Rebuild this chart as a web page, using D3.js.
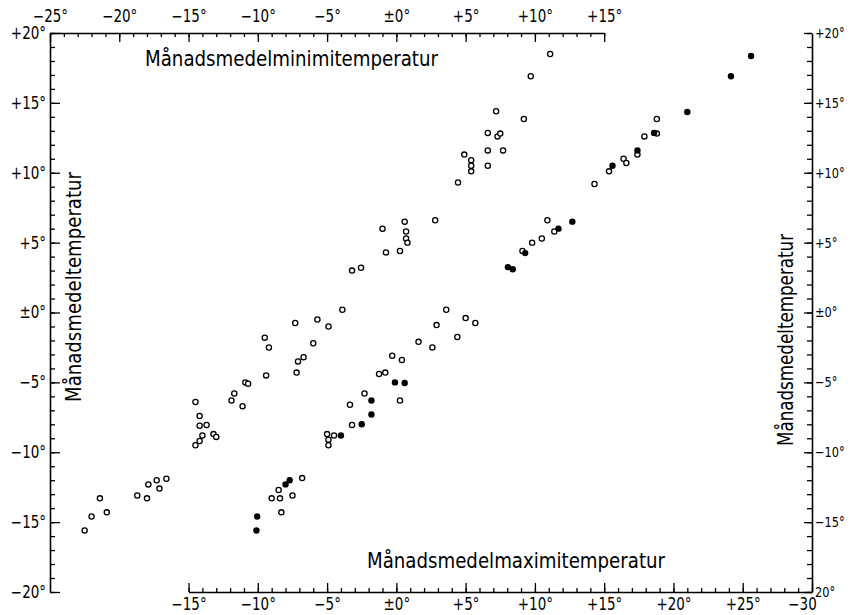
<!DOCTYPE html>
<html>
<head>
<meta charset="utf-8">
<script src="https://cdn.jsdelivr.net/npm/d3@7"></script>
<style>
  body { margin: 0; background: #fff; }
  svg { display: block; }
  text { font-family: "DejaVu Sans Condensed", "DejaVu Sans", sans-serif; font-stretch: condensed; fill: #000; }
</style>
</head>
<body>
<svg id="chart" width="852" height="615"></svg>
<script>
// mean temperature (y) against monthly mean minimum (x), open circles
const minPoints = [
  [-22.5, -15.6], [-22.0, -14.6], [-21.4, -13.3], [-20.9, -14.3], [-18.7, -13.1],
  [-18.0, -13.3], [-17.9, -12.3], [-17.3, -12.0], [-17.1, -12.6], [-16.6, -11.9],
  [-14.5, -9.5], [-14.2, -9.2], [-14.2, -8.1], [-14.0, -8.8], [-13.7, -8.05],
  [-13.2, -8.7], [-13.0, -8.9], [-14.2, -7.4], [-14.5, -6.4], [-11.1, -6.7],
  [-11.9, -6.3], [-11.7, -5.8], [-10.9, -5.0], [-10.7, -5.1], [-9.4, -4.5],
  [-7.2, -4.3], [-7.1, -3.5], [-6.7, -3.2], [-9.5, -1.8], [-9.2, -2.5],
  [-6.0, -2.2], [-7.3, -0.75], [-5.7, -0.5], [-4.9, -1.0], [-3.9, 0.2],
  [-3.2, 3.0], [-2.55, 3.2], [-1.0, 6.0], [-0.75, 4.3], [0.26, 4.4],
  [0.6, 6.5], [0.7, 5.8], [0.7, 5.3], [0.8, 5.0], [2.8, 6.6],
  [4.45, 9.3], [4.9, 11.3], [5.4, 10.9], [5.4, 10.5], [5.4, 10.1],
  [6.6, 12.85], [6.6, 11.6], [6.6, 10.5], [7.2, 14.4], [7.3, 12.6],
  [7.5, 12.8], [7.7, 11.6], [9.2, 13.85], [9.7, 16.9], [11.1, 18.5]
];

// mean temperature against monthly mean maximum, open circles
const maxOpen = [
  [-9.0, -13.3], [-8.5, -12.7], [-8.4, -13.3], [-8.3, -14.3], [-7.5, -13.1],
  [-6.8, -11.85], [-5.0, -8.7], [-4.9, -9.1], [-4.9, -9.5], [-4.5, -8.8],
  [-3.35, -6.6], [-3.2, -8.05], [-2.3, -5.8], [-1.25, -4.4], [-0.8, -4.3],
  [-0.3, -3.1], [0.26, -6.3], [0.4, -3.4], [1.6, -2.1], [2.6, -2.5],
  [2.9, -0.9], [3.6, 0.2], [4.4, -1.75], [5.0, -0.4], [5.7, -0.75],
  [9.1, 4.4], [9.8, 5.0], [10.5, 5.3], [10.9, 6.6], [11.4, 5.8],
  [14.3, 9.2], [15.35, 10.1], [16.4, 11.0], [16.6, 10.7], [17.4, 11.3],
  [17.9, 12.6], [18.8, 12.8], [18.8, 13.85]
];

// mean temperature against monthly mean maximum, filled circles
const maxFilled = [
  [-10.1, -15.6], [-10.05, -14.6], [-8.0, -12.3], [-7.7, -12.0], [-4.0, -8.8],
  [-2.5, -8.0], [-1.8, -7.3], [-1.8, -6.3], [-0.1, -5.0], [0.6, -5.05],
  [8.05, 3.25], [8.4, 3.1], [9.3, 4.25], [11.7, 6.0], [12.7, 6.5],
  [15.6, 10.5], [17.4, 11.6], [18.6, 12.85], [21.0, 14.35], [24.15, 16.9],
  [25.6, 18.35]
];

const topTicks = [-25, -20, -15, -10, -5, 0, 5, 10, 15];
const bottomTicks = [-15, -10, -5, 0, 5, 10, 15, 20, 25, 30];
const yTicks = [-20, -15, -10, -5, 0, 5, 10, 15, 20];

const titleMin = "Månadsmedelminimitemperatur";
const titleMax = "Månadsmedelmaximitemperatur";
const titleMean = "Månadsmedeltemperatur";

const svg = d3.select("#chart");

// one horizontal scale shared by both temperature axes
const x = d3.scaleLinear().domain([-25, 30]).range([50, 812]);
const y = d3.scaleLinear().domain([-20, 20]).range([592, 33]);

const xTop = x.copy().domain([-25, 15]).range([x(-25), x(15)]);
const xBottom = x.copy().domain([-15, 30]).range([x(-15), x(30)]);

function fmt(v) {
  if (v === 0) return "±0°";
  if (v > 0) return "+" + v + "°";
  return "−" + Math.abs(v) + "°";
}

function ints(a, b) {
  return d3.range(a, b + 1);
}

function styleAxis(g) {
  g.selectAll("path.domain").attr("stroke", "#000").attr("stroke-width", 1.6);
  g.selectAll(".tick line").attr("stroke", "#000").attr("stroke-width", 1.3);
  g.selectAll("text").attr("font-size", 17).attr("fill", "#000");
}

// squeeze the tick labels a bit, the lettering is narrow
function squeeze(k) {
  return g => g.selectAll(".tick text").each(function () {
    const w = this.getComputedTextLength();
    if (w > 0) {
      d3.select(this).attr("textLength", w * k).attr("lengthAdjust", "spacingAndGlyphs");
    }
  });
}

// top axis (minimum temperature)
svg.append("g").attr("transform", "translate(0,33)")
  .call(d3.axisTop(xTop).tickValues(ints(-25, 15)).tickSizeInner(-4).tickSizeOuter(0).tickFormat(""))
  .call(styleAxis);
svg.append("g").attr("transform", "translate(0,33)")
  .call(d3.axisTop(xTop).tickValues(topTicks).tickSizeInner(-9).tickSizeOuter(0).tickPadding(11).tickFormat(fmt))
  .call(styleAxis)
  .call(g => g.select("path.domain").remove())
  .call(squeeze(0.88));

// bottom axis (maximum temperature)
svg.append("g").attr("transform", "translate(0,592)")
  .call(d3.axisBottom(xBottom).tickValues(ints(-15, 30)).tickSizeInner(-4).tickSizeOuter(0).tickFormat(""))
  .call(styleAxis);
svg.append("g").attr("transform", "translate(0,592)")
  .call(d3.axisBottom(xBottom).tickValues(bottomTicks).tickSizeInner(-9).tickSizeOuter(0).tickPadding(6)
    .tickFormat(v => v === 30 ? "−30" : fmt(v)))
  .call(styleAxis)
  .call(g => g.select("path.domain").remove())
  .call(squeeze(0.88))
  .call(g => g.selectAll(".tick").filter(v => v === 30).select("text").attr("dx", -10));

// left axis (mean temperature)
svg.append("g").attr("transform", "translate(50,0)")
  .call(d3.axisLeft(y).tickValues(ints(-20, 20)).tickSizeInner(-5).tickSizeOuter(0).tickFormat(""))
  .call(styleAxis);
svg.append("g").attr("transform", "translate(50,0)")
  .call(d3.axisLeft(y).tickValues(yTicks).tickSizeInner(-10).tickSizeOuter(0).tickPadding(4).tickFormat(fmt))
  .call(styleAxis)
  .call(g => g.select("path.domain").remove())
  .call(squeeze(0.88));

// right axis
svg.append("g").attr("transform", "translate(812,0)")
  .call(d3.axisRight(y).tickValues(ints(-20, 20)).tickSizeInner(-5).tickSizeOuter(0).tickFormat(""))
  .call(styleAxis);
svg.append("g").attr("transform", "translate(812,0)")
  .call(d3.axisRight(y).tickValues(yTicks).tickSizeInner(-8).tickSizeOuter(0).tickPadding(3)
    .tickFormat(v => v === -20 ? "20°" : fmt(v)))
  .call(styleAxis)
  .call(g => g.select("path.domain").remove())
  .call(g => g.selectAll("text").attr("font-size", 14))
  .call(squeeze(0.9));

// titles
svg.append("text")
  .attr("x", 145).attr("y", 66)
  .attr("font-size", 21)
  .attr("textLength", 293).attr("lengthAdjust", "spacingAndGlyphs")
  .text(titleMin);

svg.append("text")
  .attr("x", 367).attr("y", 568)
  .attr("font-size", 21)
  .attr("textLength", 298).attr("lengthAdjust", "spacingAndGlyphs")
  .text(titleMax);

svg.append("text")
  .attr("transform", "translate(81,402) rotate(-90)")
  .attr("font-size", 21)
  .attr("textLength", 230).attr("lengthAdjust", "spacingAndGlyphs")
  .text(titleMean);

svg.append("text")
  .attr("transform", "translate(793,446) rotate(-90)")
  .attr("font-size", 21)
  .attr("textLength", 212).attr("lengthAdjust", "spacingAndGlyphs")
  .text(titleMean);

// points
const dots = svg.append("g");

dots.selectAll("circle.min")
  .data(minPoints)
  .join("circle")
  .attr("class", "min")
  .attr("cx", d => x(d[0]))
  .attr("cy", d => y(d[1]))
  .attr("r", 2.6)
  .attr("fill", "#fff")
  .attr("stroke", "#000")
  .attr("stroke-width", 1.3);

dots.selectAll("circle.maxo")
  .data(maxOpen)
  .join("circle")
  .attr("class", "maxo")
  .attr("cx", d => x(d[0]))
  .attr("cy", d => y(d[1]))
  .attr("r", 2.6)
  .attr("fill", "#fff")
  .attr("stroke", "#000")
  .attr("stroke-width", 1.3);

dots.selectAll("circle.maxf")
  .data(maxFilled)
  .join("circle")
  .attr("class", "maxf")
  .attr("cx", d => x(d[0]))
  .attr("cy", d => y(d[1]))
  .attr("r", 3.2)
  .attr("fill", "#000");
</script>
</body>
</html>
